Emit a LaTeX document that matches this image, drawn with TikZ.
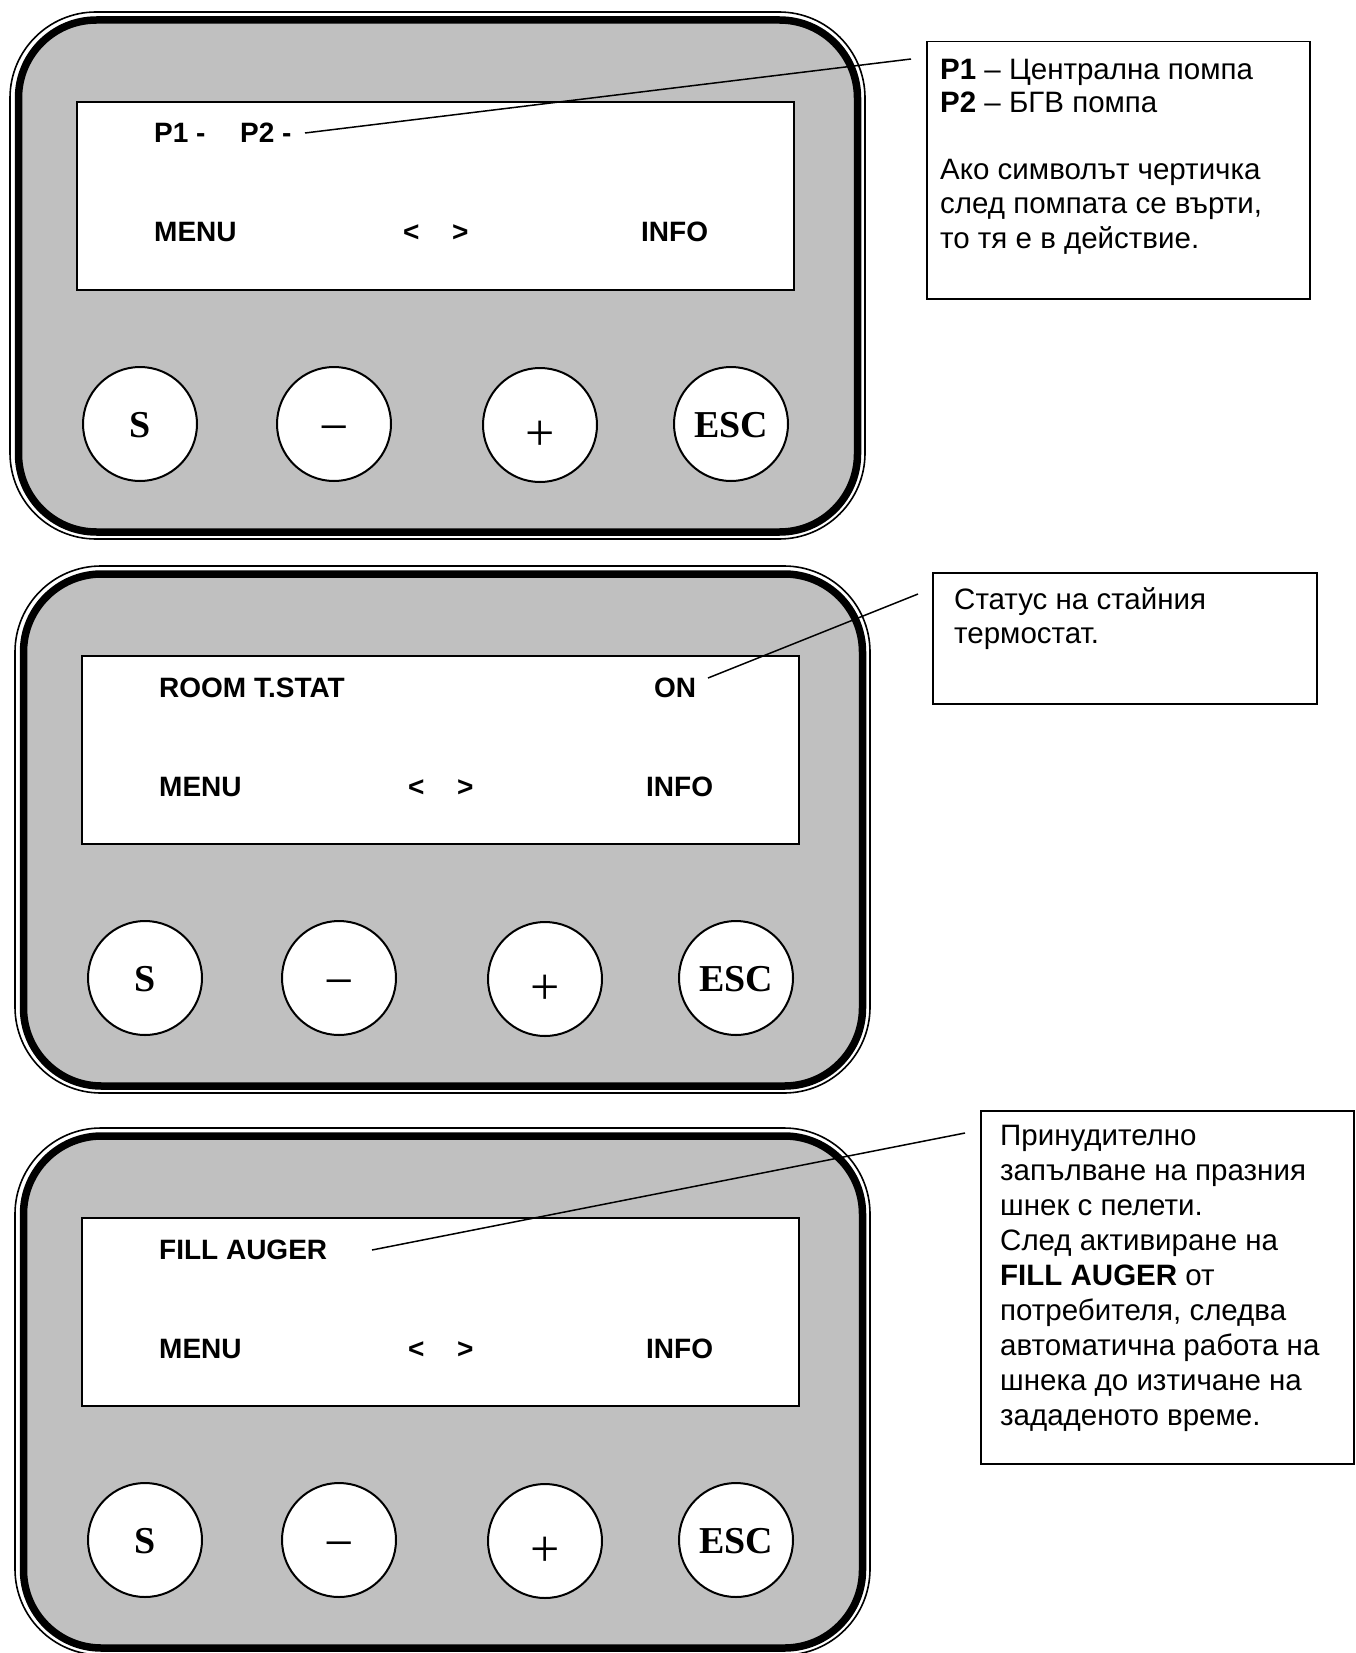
\documentclass[tikz,border=0pt]{standalone}
\usepackage{fontspec}
\setmainfont{Liberation Sans}
\newfontfamily\tnr{Liberation Serif}
\definecolor{panelgray}{HTML}{C0C0C0}
\tikzset{
  outerline/.style={line width=1.6pt, rounded corners=86pt},
  innerline/.style={line width=7.5pt, fill=panelgray, rounded corners=78pt},
  screenbox/.style={draw, line width=2pt, fill=white, anchor=north west, minimum width=717pt, minimum height=188pt, inner sep=0pt},
  btn/.style={circle, draw, line width=2pt, fill=white, minimum size=114pt, inner sep=0pt},
  lcd/.style={font=\fontsize{28}{34}\selectfont\bfseries, anchor=base west, inner sep=0pt},
  btnlbl/.style={font=\tnr\fontsize{38}{38}\selectfont\bfseries, anchor=base, inner sep=0pt},
  btnsym/.style={font=\tnr\fontsize{52}{52}\selectfont, anchor=base, inner sep=0pt},
  note/.style={font=\fontsize{29.5}{34}\selectfont, anchor=base west, inner sep=0pt},
  notebox/.style={draw, line width=1.5pt, anchor=north west, inner sep=0pt},
  leader/.style={line width=1.5pt}
}
\begin{document}
\begin{tikzpicture}[x=1pt, y=-1pt]
\useasboundingbox (0,0) rectangle (1355,1653);
\foreach \i/\dx/\dy in {1/0/0, 2/5/554, 3/5/1116} {
  \begin{scope}[shift={(\dx,\dy)}]
    \draw[outerline] (10,12) rectangle (865,539);
    \draw[innerline] (18.5,20) rectangle (857.5,532);
    \node[screenbox] (scr\i) at (76,101) {};
    \node[lcd] (menu\i) at (154,242) {MENU};
    \node[lcd] (lt\i) at (403,242) {<};
    \node[lcd] (gt\i) at (452,242) {>};
    \node[lcd] (info\i) at (641,242) {INFO};
    \node[btn] (bs\i) at (140,424) {};
    \node[btn] (bm\i) at (334,424) {};
    \node[btn] (bp\i) at (540,425) {};
    \node[btn] (be\i) at (731,424) {};
    \node[btnlbl] (ts\i) at (140,437) {S};
    \node[btnsym] (tm\i) at (334,444) {−};
    \node[btnsym] (tp\i) at (540,450) {+};
    \node[btnlbl] (te\i) at (731,437) {ESC};
  \end{scope}
}
% screen texts
\node[lcd] (p1) at (154,143) {P1 -};
\node[lcd] (p2) at (240,143) {P2 -};
\node[lcd] (room) at (159,697) {ROOM T.STAT};
\node[lcd] (on) at (654,697) {ON};
\node[lcd] (fill) at (159,1259) {FILL AUGER};
% callout 1
\node[notebox, minimum width=383pt, minimum height=257pt] (cb1) at (926,41) {};
\node[note] (c1a) at (940,80) {\textbf{P1} – Централна помпа};
\node[note] (c1b) at (940,113) {\textbf{P2} – БГВ помпа};
\node[note] (c1c) at (940,180) {Ако символът чертичка};
\node[note] (c1d) at (940,214) {след помпата се върти,};
\node[note] (c1e) at (940,248) {то тя е в действие.};
% callout 2
\node[notebox, minimum width=384pt, minimum height=131pt] (cb2) at (932,572) {};
\node[note] (c2a) at (954,609) {Статус на стайния};
\node[note] (c2b) at (954,643) {термостат.};
% callout 3
\node[notebox, minimum width=373pt, minimum height=353pt] (cb3) at (980,1110) {};
\node[note] (c3a) at (1000,1145) {Принудително};
\node[note] (c3b) at (1000,1180) {запълване на празния};
\node[note] (c3c) at (1000,1215) {шнек с пелети.};
\node[note] (c3d) at (1000,1250) {След активиране на};
\node[note] (c3e) at (1000,1285) {\textbf{FILL AUGER} от};
\node[note] (c3f) at (1000,1320) {потребителя, следва};
\node[note] (c3g) at (1000,1355) {автоматична работа на};
\node[note] (c3h) at (1000,1390) {шнека до изтичане на};
\node[note] (c3i) at (1000,1425) {зададеното време.};
% leaders
\coordinate (l1s) at (305,133);
\coordinate (l1e) at (911,59);
\coordinate (l2s) at (708,678);
\coordinate (l2e) at (918,594);
\coordinate (l3s) at (372,1250);
\coordinate (l3e) at (965,1133);
\draw[leader] (l1s) -- (l1e);
\draw[leader] (l2s) -- (l2e);
\draw[leader] (l3s) -- (l3e);
\end{tikzpicture}
\end{document}
